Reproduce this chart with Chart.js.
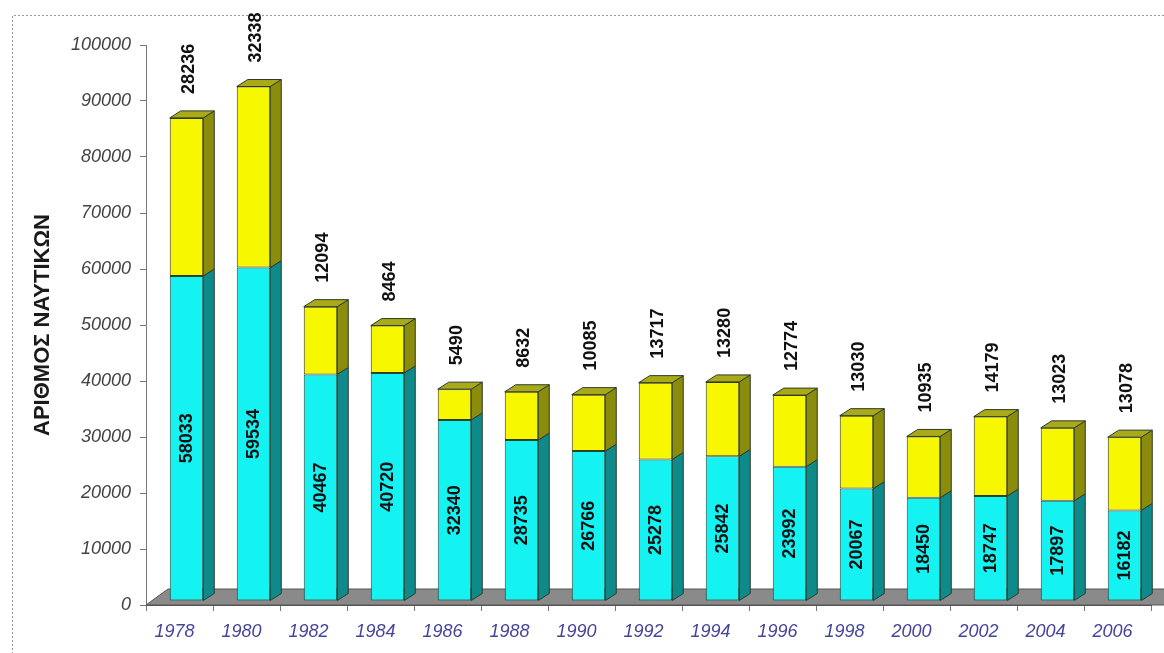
<!DOCTYPE html>
<html>
<head>
<meta charset="utf-8">
<script src="https://cdn.jsdelivr.net/npm/chart.js@4.4.0/dist/chart.umd.min.js"></script>
<style>
  html, body { margin: 0; padding: 0; background: #fff; }
</style>
</head>
<body>
<canvas id="chart" width="1164" height="653"></canvas>
<script>
// Data
const years = ['1978', '1980', '1982', '1984', '1986', '1988', '1990', '1992', '1994', '1996', '1998', '2000', '2002', '2004', '2006'];
const cyanValues = [58033, 59534, 40467, 40720, 32340, 28735, 26766, 25278, 25842, 23992, 20067, 18450, 18747, 17897, 16182];
const yellowValues = [28236, 32338, 12094, 8464, 5490, 8632, 10085, 13717, 13280, 12774, 13030, 10935, 14179, 13023, 13078];
const yMax = 100000;
const yStep = 10000;
const yTitle = 'ΑΡΙΘΜΟΣ ΝΑΥΤΙΚΩΝ';

const FONT = "'Liberation Sans', Arial, sans-serif";
Chart.defaults.font.family = FONT;

// 3D look
const SHIFT_X = 7, SHIFT_Y = -4;   // bars sit a little behind the front edge of the floor
const DEPTH_X = 11, DEPTH_Y = 7;   // depth of each bar
const faceColors = [
    { side: '#0f8a8a', top: '#20a0a0' },
    { side: '#8c8c0c', top: '#aaaa18' }
];

const dottedFrame = {
    id: 'dottedFrame',
    beforeDraw(chart) {
        const ctx = chart.ctx;
        ctx.save();
        ctx.strokeStyle = '#9a9a9a';
        ctx.lineWidth = 1;
        ctx.setLineDash([2, 2]);
        ctx.beginPath();
        ctx.moveTo(12.5, chart.height + 5);
        ctx.lineTo(12.5, 15.5);
        ctx.lineTo(chart.width + 5, 15.5);
        ctx.stroke();
        ctx.restore();
    }
};

const bars3d = {
    id: 'bars3d',
    beforeDatasetsDraw(chart) {
        const ctx = chart.ctx;
        const area = chart.chartArea;
        const y0 = chart.scales.y.getPixelForValue(0);
        // floor
        ctx.save();
        ctx.fillStyle = '#8a8a8a';
        ctx.strokeStyle = '#555';
        ctx.lineWidth = 1;
        ctx.beginPath();
        ctx.moveTo(area.left, y0);
        ctx.lineTo(area.left + 22, y0 - 16);
        ctx.lineTo(chart.width + 5, y0 - 16);
        ctx.lineTo(chart.width + 5, y0);
        ctx.closePath();
        ctx.fill();
        ctx.stroke();
        ctx.restore();

        ctx.save();
        ctx.translate(SHIFT_X, SHIFT_Y);
    },
    afterDatasetsDraw(chart) {
        const ctx = chart.ctx;
        const last = chart.data.datasets.length - 1;
        chart.data.datasets.forEach((ds, di) => {
            chart.getDatasetMeta(di).data.forEach(bar => {
                const p = bar.getProps(['x', 'y', 'base', 'width'], true);
                const x1 = p.x - p.width / 2, x2 = p.x + p.width / 2;
                ctx.lineWidth = 1;
                ctx.strokeStyle = '#2b3b2b';
                // side face
                ctx.fillStyle = faceColors[di].side;
                ctx.beginPath();
                ctx.moveTo(x2, p.y);
                ctx.lineTo(x2 + DEPTH_X, p.y - DEPTH_Y);
                ctx.lineTo(x2 + DEPTH_X, p.base - DEPTH_Y);
                ctx.lineTo(x2, p.base);
                ctx.closePath();
                ctx.fill();
                ctx.stroke();
                // top face, only on the top segment
                if (di === last) {
                    ctx.fillStyle = faceColors[di].top;
                    ctx.beginPath();
                    ctx.moveTo(x1, p.y);
                    ctx.lineTo(x1 + DEPTH_X, p.y - DEPTH_Y);
                    ctx.lineTo(x2 + DEPTH_X, p.y - DEPTH_Y);
                    ctx.lineTo(x2, p.y);
                    ctx.closePath();
                    ctx.fill();
                    ctx.stroke();
                }
            });
        });
        ctx.restore();

        // value labels, rotated
        ctx.save();
        ctx.fillStyle = '#111';
        ctx.font = 'bold 18px ' + FONT;
        ctx.textBaseline = 'middle';
        chart.data.datasets.forEach((ds, di) => {
            chart.getDatasetMeta(di).data.forEach((bar, i) => {
                const p = bar.getProps(['x', 'y', 'base'], true);
                const cx = p.x + SHIFT_X + 1;
                ctx.save();
                if (di === 0) {
                    ctx.translate(cx, (p.y + p.base) / 2 + SHIFT_Y);
                    ctx.rotate(-Math.PI / 2);
                    ctx.textAlign = 'center';
                } else {
                    ctx.translate(cx + 2, p.y + SHIFT_Y - 24);
                    ctx.rotate(-Math.PI / 2);
                    ctx.textAlign = 'left';
                }
                ctx.fillText(String(ds.data[i]), 0, 0);
                ctx.restore();
            });
        });
        ctx.restore();
    }
};

new Chart(document.getElementById('chart'), {
    type: 'bar',
    data: {
        labels: years,
        datasets: [
            {
                label: 'cyan',
                data: cyanValues,
                backgroundColor: '#14f2f2',
                borderColor: '#1e4a3a',
                borderWidth: 1,
                borderSkipped: false,
                barPercentage: 0.5,
                categoryPercentage: 1
            },
            {
                label: 'yellow',
                data: yellowValues,
                backgroundColor: '#f7f700',
                borderColor: '#3a3a10',
                borderWidth: 1,
                borderSkipped: false,
                barPercentage: 0.5,
                categoryPercentage: 1
            }
        ]
    },
    options: {
        responsive: false,
        animation: false,
        layout: { padding: { left: 12, right: 13, top: 45, bottom: 0 } },
        plugins: {
            legend: { display: false },
            tooltip: { enabled: false }
        },
        scales: {
            x: {
                stacked: true,
                grid: { offset: true, drawOnChartArea: false, tickLength: 6, color: '#777' },
                border: { display: true, color: '#555' },
                ticks: {
                    color: '#45459a',
                    font: { size: 18, style: 'italic' },
                    padding: 10,
                    labelOffset: -5,
                    maxRotation: 0
                },
                afterFit(scale) { scale.height = 48; }
            },
            y: {
                stacked: true,
                min: 0,
                max: yMax,
                grid: { drawOnChartArea: false, tickLength: 6, color: '#777' },
                border: { display: true, color: '#777' },
                ticks: {
                    stepSize: yStep,
                    color: '#444',
                    font: { size: 18, style: 'italic' },
                    padding: 9,
                    callback: v => String(v)
                },
                title: {
                    display: true,
                    text: yTitle,
                    color: '#1a1a1a',
                    font: { size: 22, weight: 'bold' },
                    padding: { top: 18, bottom: 4 }
                },
                afterFit(scale) { scale.width = 134; }
            }
        }
    },
    plugins: [dottedFrame, bars3d]
});
</script>
</body>
</html>
